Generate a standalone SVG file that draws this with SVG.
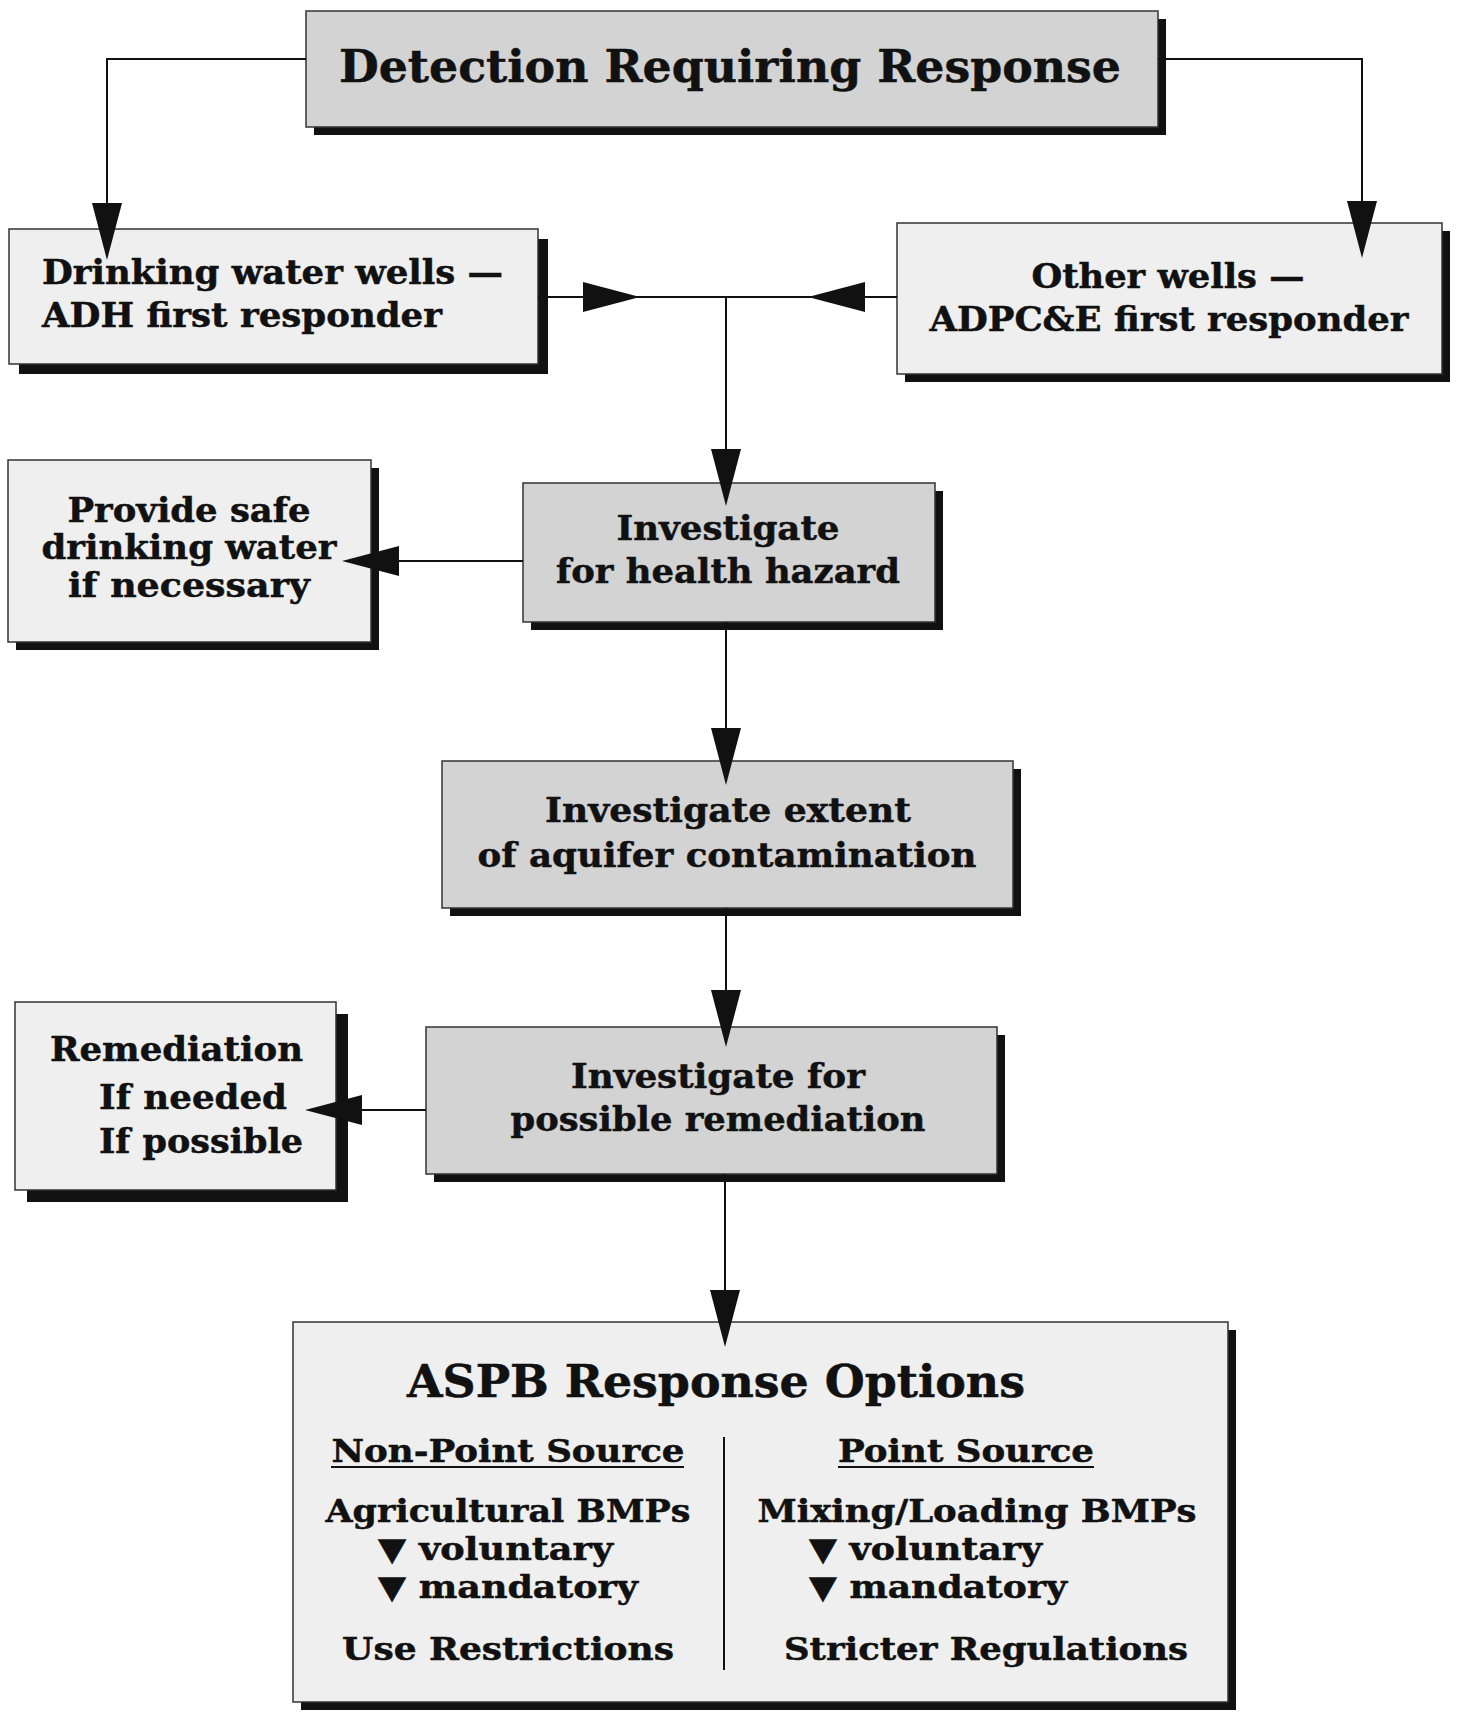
<svg xmlns="http://www.w3.org/2000/svg" xmlns:xlink="http://www.w3.org/1999/xlink" width="1457" height="1715" viewBox="0 0 1457 1715">
<style>
  .shadow { fill: #111; }
  .dark { fill: #d3d3d3; stroke: #333; stroke-width: 1.5; }
  .light { fill: #efefef; stroke: #333; stroke-width: 1.5; }
  .t { font-family: "DejaVu Serif", "Liberation Serif", serif; font-weight: bold; fill: #111; stroke: #111; stroke-width: 0.5; }
  .c { text-anchor: middle; }
  .line { fill: none; stroke: #111; stroke-width: 2; }
  .head { fill: #111; }
</style>
<defs>
  <polygon id="ah" points="-15,-57 15,-57 0,0"/>
</defs>
<rect width="1457" height="1715" fill="#ffffff"/>

<g id="detection">
  <rect class="shadow" x="314" y="19" width="852" height="116"/>
  <rect class="dark" x="306" y="11" width="852" height="116"/>
  <text class="t c" x="730" y="82" font-size="45" textLength="782" lengthAdjust="spacingAndGlyphs">Detection Requiring Response</text>
</g>

<g id="drinking">
  <rect class="shadow" x="19" y="239" width="529" height="135"/>
  <rect class="light" x="9" y="229" width="529" height="135"/>
  <text class="t" x="42" y="284" font-size="33" textLength="461" lengthAdjust="spacingAndGlyphs">Drinking water wells —</text>
  <text class="t" x="42" y="327" font-size="33" textLength="400" lengthAdjust="spacingAndGlyphs">ADH first responder</text>
</g>

<g id="other">
  <rect class="shadow" x="905" y="231" width="545" height="151"/>
  <rect class="light" x="897" y="223" width="545" height="151"/>
  <text class="t c" x="1168" y="288" font-size="33" textLength="273" lengthAdjust="spacingAndGlyphs">Other wells —</text>
  <text class="t c" x="1169" y="331" font-size="33" textLength="479" lengthAdjust="spacingAndGlyphs">ADPC&amp;E first responder</text>
</g>

<g id="provide">
  <rect class="shadow" x="16" y="468" width="363" height="182"/>
  <rect class="light" x="8" y="460" width="363" height="182"/>
  <text class="t c" x="189" y="522" font-size="33" textLength="243" lengthAdjust="spacingAndGlyphs">Provide safe</text>
  <text class="t c" x="189" y="559" font-size="33" textLength="295" lengthAdjust="spacingAndGlyphs">drinking water</text>
  <text class="t c" x="189" y="597" font-size="33" textLength="242" lengthAdjust="spacingAndGlyphs">if necessary</text>
</g>

<g id="health">
  <rect class="shadow" x="531" y="491" width="412" height="139"/>
  <rect class="dark" x="523" y="483" width="412" height="139"/>
  <text class="t c" x="728" y="540" font-size="33" textLength="223" lengthAdjust="spacingAndGlyphs">Investigate</text>
  <text class="t c" x="728" y="583" font-size="33" textLength="344" lengthAdjust="spacingAndGlyphs">for health hazard</text>
</g>

<g id="extent">
  <rect class="shadow" x="450" y="769" width="571" height="147"/>
  <rect class="dark" x="442" y="761" width="571" height="147"/>
  <text class="t c" x="728" y="822" font-size="33" textLength="366" lengthAdjust="spacingAndGlyphs">Investigate extent</text>
  <text class="t c" x="727" y="867" font-size="33" textLength="499" lengthAdjust="spacingAndGlyphs">of aquifer contamination</text>
</g>

<g id="possible">
  <rect class="shadow" x="434" y="1035" width="571" height="147"/>
  <rect class="dark" x="426" y="1027" width="571" height="147"/>
  <text class="t c" x="718" y="1088" font-size="33" textLength="294" lengthAdjust="spacingAndGlyphs">Investigate for</text>
  <text class="t c" x="718" y="1131" font-size="33" textLength="415" lengthAdjust="spacingAndGlyphs">possible remediation</text>
</g>

<g id="remediation">
  <rect class="shadow" x="27" y="1014" width="321" height="188"/>
  <rect class="light" x="15" y="1002" width="321" height="188"/>
  <text class="t" x="50" y="1061" font-size="33" textLength="253" lengthAdjust="spacingAndGlyphs">Remediation</text>
  <text class="t" x="99" y="1109" font-size="33" textLength="188" lengthAdjust="spacingAndGlyphs">If needed</text>
  <text class="t" x="99" y="1153" font-size="33" textLength="204" lengthAdjust="spacingAndGlyphs">If possible</text>
</g>

<g id="aspb">
  <rect class="shadow" x="301" y="1330" width="935" height="380"/>
  <rect class="light" x="293" y="1322" width="935" height="380"/>
  <text class="t c" x="716" y="1397" font-size="44" textLength="618" lengthAdjust="spacingAndGlyphs">ASPB Response Options</text>
  <path class="line" d="M724,1437 V1670"/>
  <text class="t c" x="508" y="1462" font-size="32" textLength="353" lengthAdjust="spacingAndGlyphs">Non-Point Source</text>
  <path class="line" d="M331,1467 H684"/>
  <text class="t c" x="966" y="1462" font-size="32" textLength="256" lengthAdjust="spacingAndGlyphs">Point Source</text>
  <path class="line" d="M838,1467 H1094"/>
  <text class="t c" x="508" y="1522" font-size="32" textLength="365" lengthAdjust="spacingAndGlyphs">Agricultural BMPs</text>
  <text class="t" x="378" y="1560" font-size="32" textLength="235" lengthAdjust="spacingAndGlyphs">▼ voluntary</text>
  <text class="t" x="378" y="1598" font-size="32" textLength="260" lengthAdjust="spacingAndGlyphs">▼ mandatory</text>
  <text class="t c" x="508" y="1660" font-size="32" textLength="332" lengthAdjust="spacingAndGlyphs">Use Restrictions</text>
  <text class="t c" x="977" y="1522" font-size="32" textLength="439" lengthAdjust="spacingAndGlyphs">Mixing/Loading BMPs</text>
  <text class="t" x="809" y="1560" font-size="32" textLength="233" lengthAdjust="spacingAndGlyphs">▼ voluntary</text>
  <text class="t" x="809" y="1598" font-size="32" textLength="258" lengthAdjust="spacingAndGlyphs">▼ mandatory</text>
  <text class="t c" x="986" y="1660" font-size="32" textLength="404" lengthAdjust="spacingAndGlyphs">Stricter Regulations</text>
</g>

<g id="connectors">
  <path class="line" d="M306,59 H107 V240"/>
  <path class="line" d="M1158,59 H1362 V240"/>
  <path class="line" d="M538,297 H897"/>
  <path class="line" d="M726,297 V490"/>
  <path class="line" d="M523,561 H360"/>
  <path class="line" d="M726,622 V770"/>
  <path class="line" d="M726,908 V1030"/>
  <path class="line" d="M426,1110 H320"/>
  <path class="line" d="M725,1174 V1330"/>
  <use xlink:href="#ah" class="head" transform="translate(107,260)"/>
  <use xlink:href="#ah" class="head" transform="translate(1362,258)"/>
  <use xlink:href="#ah" class="head" transform="translate(640,297) rotate(-90)"/>
  <use xlink:href="#ah" class="head" transform="translate(808,297) rotate(90)"/>
  <use xlink:href="#ah" class="head" transform="translate(726,506)"/>
  <use xlink:href="#ah" class="head" transform="translate(342,561) rotate(90)"/>
  <use xlink:href="#ah" class="head" transform="translate(726,785)"/>
  <use xlink:href="#ah" class="head" transform="translate(726,1047)"/>
  <use xlink:href="#ah" class="head" transform="translate(305,1110) rotate(90)"/>
  <use xlink:href="#ah" class="head" transform="translate(725,1347)"/>
</g>
</svg>
